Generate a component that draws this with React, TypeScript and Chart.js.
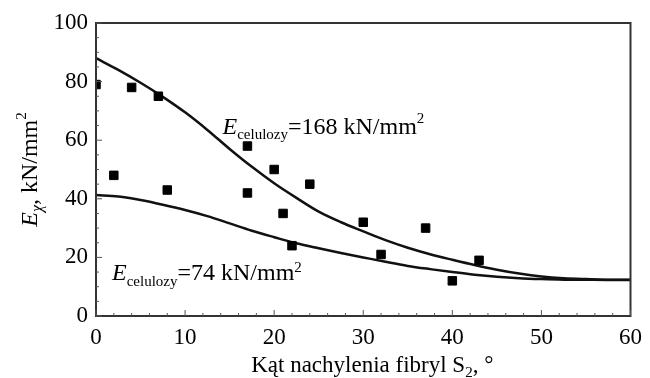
import React, { useEffect, useRef } from "react";
import { Chart, registerables } from "chart.js";

Chart.register(...registerables);

const curveX = [0, 2.5, 5, 7.5, 10, 12.5, 15, 17.5, 20, 22.5, 25, 27.5, 30, 32.5, 35, 37.5, 40, 42.5, 45, 47.5, 50, 52.5, 55, 57.5, 60];
const upperCurve = [88, 84, 79.6, 74.8, 69.5, 63.5, 57, 50.9, 45.3, 40.3, 35.6, 32.0, 28.9, 25.9, 23.3, 21.1, 19.2, 17.4, 15.8, 14.5, 13.5, 12.9, 12.6, 12.4, 12.4];
const lowerCurve = [41.3, 40.8, 39.6, 38, 36.2, 34.1, 31.6, 29.1, 26.9, 24.8, 23.1, 21.5, 20, 18.5, 17.1, 16.0, 15.0, 14.1, 13.4, 12.9, 12.6, 12.4, 12.35, 12.3, 12.3];
const pointsX = [0, 2, 4, 7, 8, 17, 17, 20, 21, 22, 24, 30, 32, 37, 40, 43];
const pointsY = [79, 48, 78, 75, 43, 58, 42, 50, 35, 24, 45, 32, 21, 30, 12, 19];
const xTicks = [0, 10, 20, 30, 40, 50, 60];
const yTicks = [0, 20, 40, 60, 80, 100];

const SERIF = "'Liberation Serif', 'Times New Roman', serif";

type Seg = { t: string; size: number; italic?: boolean; dy?: number };

function drawSegs(ctx: CanvasRenderingContext2D, segs: Seg[], x: number, y: number) {
  let cx = x;
  for (const s of segs) {
    ctx.font = `${s.italic ? "italic " : ""}${s.size}px ${SERIF}`;
    ctx.fillText(s.t, cx, y + (s.dy || 0));
    cx += ctx.measureText(s.t).width;
  }
  return cx - x;
}
function measureSegs(ctx: CanvasRenderingContext2D, segs: Seg[]) {
  let w = 0;
  for (const s of segs) {
    ctx.font = `${s.italic ? "italic " : ""}${s.size}px ${SERIF}`;
    w += ctx.measureText(s.t).width;
  }
  return w;
}

const decorPlugin = {
  id: "decor",
  afterDatasetsDraw(chart: any) {
    const ctx: CanvasRenderingContext2D = chart.ctx;
    const { left, right, top, bottom } = chart.chartArea;
    const xs = chart.scales.x;
    const ys = chart.scales.y;
    ctx.save();
    ctx.strokeStyle = "#333";
    ctx.lineWidth = 2;
    ctx.strokeRect(left, top, right - left, bottom - top);
    // inner ticks
    ctx.lineWidth = 1;
    ctx.strokeStyle = "#555";
    ctx.beginPath();
    for (let v = 0; v <= 60; v += 2) {
      const px = xs.getPixelForValue(v);
      const len = v % 10 === 0 ? 6 : 3;
      ctx.moveTo(px, bottom);
      ctx.lineTo(px, bottom - len);
    }
    for (let v = 0; v <= 100; v += 5) {
      const py = ys.getPixelForValue(v);
      const len = v % 20 === 0 ? 6 : 3;
      ctx.moveTo(left, py);
      ctx.lineTo(left + len, py);
    }
    ctx.stroke();

    ctx.fillStyle = "#000";
    ctx.textBaseline = "alphabetic";
    ctx.textAlign = "left";
    // annotations
    const up: Seg[] = [
      { t: "E", size: 24, italic: true },
      { t: "celulozy", size: 15, dy: 5 },
      { t: "=168 kN/mm", size: 24 },
      { t: "2", size: 15, dy: -11 },
    ];
    drawSegs(ctx, up, xs.getPixelForValue(14.2), ys.getPixelForValue(62));
    const lo: Seg[] = [
      { t: "E", size: 24, italic: true },
      { t: "celulozy", size: 15, dy: 6 },
      { t: "=74 kN/mm", size: 24 },
      { t: "2", size: 15, dy: -8 },
    ];
    drawSegs(ctx, lo, xs.getPixelForValue(1.8), ys.getPixelForValue(12.3));

    // x title
    const xt: Seg[] = [
      { t: "Kąt nachylenia fibryl S", size: 23 },
      { t: "2", size: 15, dy: 5 },
      { t: ", °", size: 23 },
    ];
    const xw = measureSegs(ctx, xt);
    drawSegs(ctx, xt, (left + right) / 2 + 9 - xw / 2, 372);

    // y title
    const yt: Seg[] = [
      { t: "E", size: 24, italic: true },
      { t: "χ", size: 16, italic: true, dy: 5 },
      { t: ", kN/mm", size: 24 },
      { t: "2", size: 15, dy: -11 },
    ];
    const yw = measureSegs(ctx, yt);
    ctx.translate(37, (top + bottom) / 2);
    ctx.rotate(-Math.PI / 2);
    drawSegs(ctx, yt, -yw / 2, 0);
    ctx.restore();
  },
};

export default function App() {
  const ref = useRef<HTMLCanvasElement>(null);
  useEffect(() => {
    document.body.style.margin = "0";
    const c = ref.current!;
    const chart = new Chart(c, {
      type: "line",
      data: {
        datasets: [
          {
            type: "scatter" as any,
            data: pointsX.map((x, i) => ({ x, y: pointsY[i] })),
            pointStyle: "rect",
            pointRadius: 6,
            backgroundColor: "#000",
            borderColor: "#000",
            borderWidth: 1,
            showLine: false,
          },
          {
            data: curveX.map((x, i) => ({ x, y: upperCurve[i] })),
            borderColor: "#111",
            borderWidth: 2.5,
            pointRadius: 0,
            cubicInterpolationMode: "monotone",
            fill: false,
          },
          {
            data: curveX.map((x, i) => ({ x, y: lowerCurve[i] })),
            borderColor: "#111",
            borderWidth: 2.5,
            pointRadius: 0,
            cubicInterpolationMode: "monotone",
            fill: false,
          },
        ],
      },
      options: {
        animation: false,
        responsive: false,
        devicePixelRatio: 1,
        layout: { padding: { top: 23, right: 14, left: 0, bottom: 0 } },
        plugins: { legend: { display: false }, tooltip: { enabled: false } },
        scales: {
          x: {
            type: "linear",
            min: 0,
            max: 60,
            afterBuildTicks: (s: any) => {
              s.ticks = xTicks.map((v) => ({ value: v }));
            },
            afterFit: (s: any) => {
              s.height = 62;
            },
            grid: { display: false, drawTicks: false },
            border: { display: false },
            ticks: {
              color: "#000",
              font: { family: SERIF, size: 23 },
              padding: 8,
              maxRotation: 0,
            },
          },
          y: {
            type: "linear",
            min: 0,
            max: 100,
            afterBuildTicks: (s: any) => {
              s.ticks = yTicks.map((v) => ({ value: v }));
            },
            afterFit: (s: any) => {
              s.width = 96;
            },
            grid: { display: false, drawTicks: false },
            border: { display: false },
            ticks: {
              color: "#000",
              font: { family: SERIF, size: 23 },
              padding: 8,
            },
          },
        },
      },
      plugins: [decorPlugin],
    });
    return () => chart.destroy();
  }, []);
  return (
    <div style={{ position: "absolute", left: 0, top: 0, width: 650, height: 378 }}>
      <canvas ref={ref} width={650} height={378} />
    </div>
  );
}
